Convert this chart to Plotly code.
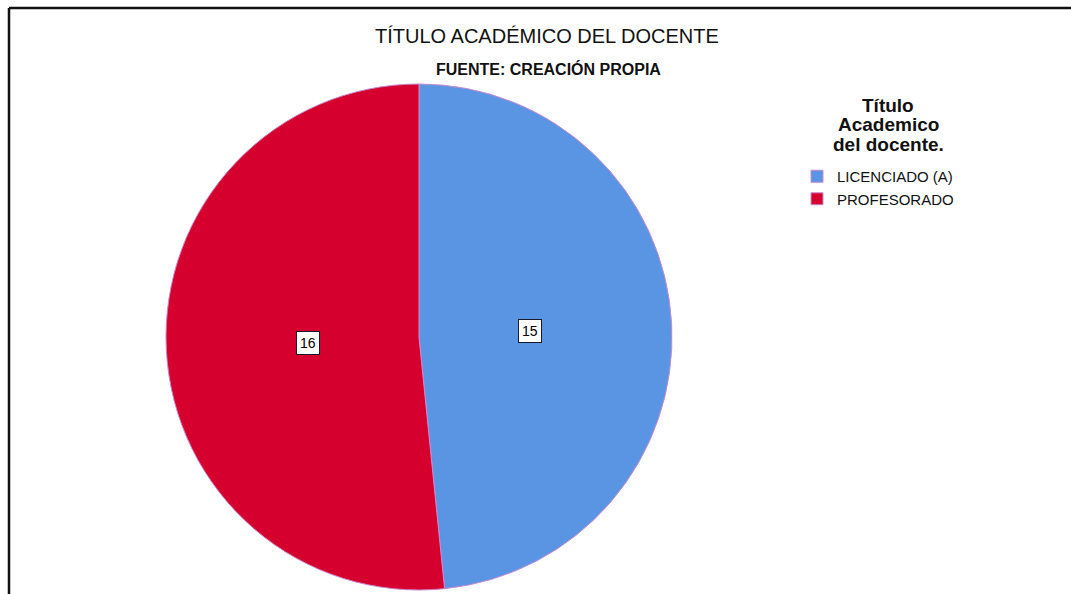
import numpy as np
import plotly.graph_objects as go

# Data
categories = ["LICENCIADO (A)", "PROFESORADO"]
counts = [15, 16]
colors = ["#5A95E3", "#D6002F"]
legend_title_lines = ["Título", "Academico", "del docente."]

W, H = 1071, 594
FONT = "Liberation Sans, Arial, sans-serif"

# Pie placement in pixels (domain box)
pie_left, pie_right = 166, 672
pie_top, pie_bottom = 84, 590
cx = (pie_left + pie_right) / 2
cy = (pie_top + pie_bottom) / 2
R = (pie_right - pie_left) / 2

fig = go.Figure()
fig.add_trace(go.Pie(
    labels=categories,
    values=counts,
    sort=False,
    direction="clockwise",
    rotation=0,
    textinfo="none",
    hoverinfo="label+value",
    marker=dict(colors=colors, line=dict(color="#C98AD0", width=1)),
    domain=dict(x=[pie_left / W, pie_right / W], y=[1 - pie_bottom / H, 1 - pie_top / H]),
))

# Boxed value labels placed along each slice's bisector
total = sum(counts)
cum = np.cumsum([0] + counts)
annotations = []
for i, v in enumerate(counts):
    mid = (cum[i] + v / 2) / total * 2 * np.pi
    px = cx + 0.44 * R * np.sin(mid)
    py = cy - 0.44 * R * np.cos(mid)
    annotations.append(dict(
        x=px / W, y=1 - py / H, xref="paper", yref="paper",
        xanchor="center", yanchor="middle",
        text=str(v), showarrow=False,
        font=dict(family=FONT, size=14, color="#000"),
        bgcolor="white", bordercolor="#1a1a2a", borderwidth=1, borderpad=3,
    ))

# Title and subtitle
annotations.append(dict(
    x=547 / W, y=1 - 36 / H, xref="paper", yref="paper", showarrow=False,
    xanchor="center", yanchor="middle",
    text="TÍTULO ACADÉMICO DEL DOCENTE",
    font=dict(family=FONT, size=20, color="#111"),
))
annotations.append(dict(
    x=548 / W, y=1 - 69 / H, xref="paper", yref="paper", showarrow=False,
    xanchor="center", yanchor="middle",
    text="<b>FUENTE: CREACIÓN PROPIA</b>",
    font=dict(family=FONT, size=16, color="#111"),
))

# Legend heading, centred lines
for k, line in enumerate(legend_title_lines):
    annotations.append(dict(
        x=888 / W, y=1 - (105 + 19.5 * k) / H, xref="paper", yref="paper", showarrow=False,
        xanchor="center", yanchor="middle",
        text=f"<b>{line}</b>",
        font=dict(family=FONT, size=19, color="#111"),
    ))

# Frame lines (top and left)
shapes = [
    dict(type="line", xref="paper", yref="paper", x0=9 / W, x1=1, y0=1 - 8 / H, y1=1 - 8 / H,
         line=dict(color="#111", width=2.5)),
    dict(type="line", xref="paper", yref="paper", x0=9 / W, x1=9 / W, y0=0, y1=1 - 8 / H,
         line=dict(color="#111", width=2.5)),
]

fig.update_layout(
    width=W, height=H,
    margin=dict(l=0, r=0, t=0, b=0),
    paper_bgcolor="white", plot_bgcolor="white",
    annotations=annotations,
    shapes=shapes,
    legend=dict(
        x=797 / W, y=1 - 160 / H, xanchor="left", yanchor="top",
        font=dict(family=FONT, size=15, color="#111"),
        itemwidth=30, tracegroupgap=0,
    ),
)

fig.write_html("out.html")
